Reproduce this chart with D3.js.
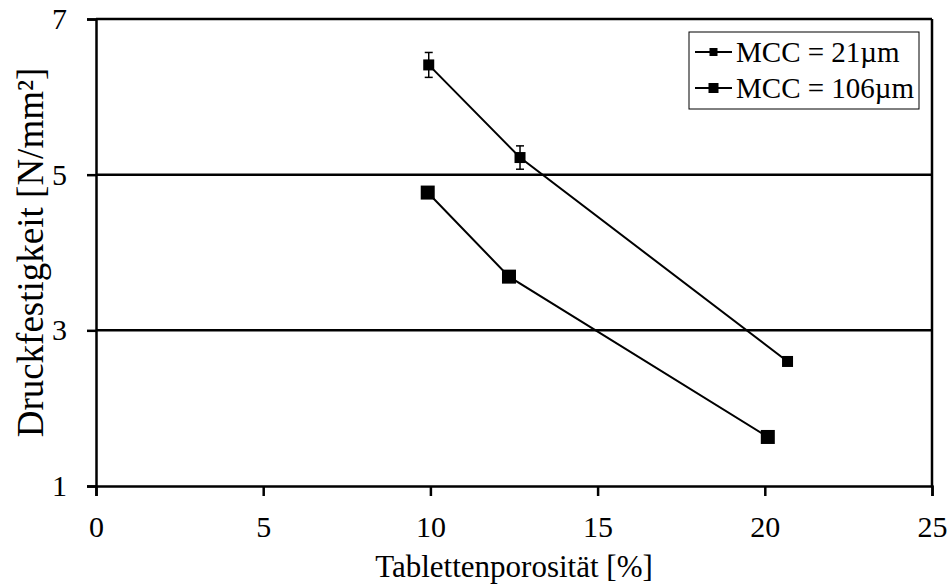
<!DOCTYPE html>
<html><head><meta charset="utf-8">
<script src="https://cdn.jsdelivr.net/npm/d3@7"></script>
<style>body{margin:0;background:#fff}svg{display:block}text{font-family:"Liberation Serif","Times New Roman",serif;fill:#000}</style>
</head><body><svg id="c" width="951" height="585"></svg>
<script>
const seriesNames = ["MCC = 21\u00b5m", "MCC = 106\u00b5m"];
const s21x = [9.95, 12.68, 20.68];
const s21y = [6.41, 5.22, 2.60];
const s21err = [0.16, 0.15, 0.05];
const s106x = [9.92, 12.35, 20.09];
const s106y = [4.77, 3.69, 1.63];
const s106err = [0.03, 0.03, 0.03];
const xTicks = [0, 5, 10, 15, 20, 25];
const yTicks = [1, 3, 5, 7];
const xTitle = "Tablettenporosität [%]";
const yTitle = "Druckfestigkeit [N/mm²]";

const svg = d3.select("#c");
const x = d3.scaleLinear().domain([0, 25]).range([96, 932]);
const y = d3.scaleLinear().domain([1, 7]).range([486, 19]);
const fs = 30;

svg.append("g").selectAll("line").data(yTicks.filter(v => v > 1)).join("line")
  .attr("x1", x(0)).attr("x2", x(25)).attr("y1", d => y(d)).attr("y2", d => y(d))
  .attr("stroke", "#000").attr("stroke-width", 2.5);
svg.append("line").attr("x1", x(25)).attr("x2", x(25)).attr("y1", y(7)).attr("y2", y(1))
  .attr("stroke", "#000").attr("stroke-width", 2.5);

const xAxis = svg.append("g").attr("transform", `translate(0,${y(1)})`)
  .call(d3.axisBottom(x).tickValues(xTicks).tickSize(10).tickPadding(20).tickFormat(d3.format("d")));
const yAxis = svg.append("g").attr("transform", `translate(${x(0)},0)`)
  .call(d3.axisLeft(y).tickValues(yTicks).tickSize(9).tickPadding(20).tickFormat(d3.format("d")));
[xAxis, yAxis].forEach(a => {
  a.select(".domain").attr("stroke", "#000").attr("stroke-width", 2.5);
  a.selectAll(".tick line").attr("stroke", "#000").attr("stroke-width", 2.5);
  a.selectAll("text").attr("font-size", fs).attr("font-family", "Liberation Serif").attr("fill", "#000");
});

svg.append("text").attr("x", (x(0) + x(25)) / 2).attr("y", 577).attr("text-anchor", "middle")
  .attr("font-size", 31).text(xTitle);
svg.append("text").attr("transform", `translate(43,${(y(1) + y(7)) / 2}) rotate(-90)`)
  .attr("text-anchor", "middle").attr("font-size", 37).text(yTitle);

const series = [
  {xs: s21x, ys: s21y, err: s21err, size: 11},
  {xs: s106x, ys: s106y, err: s106err, size: 14}
];
const line = d3.line().x(d => x(d[0])).y(d => y(d[1]));
series.forEach(s => {
  const pts = s.xs.map((v, i) => [v, s.ys[i], s.err[i]]);
  svg.append("path").attr("d", line(pts)).attr("fill", "none").attr("stroke", "#000").attr("stroke-width", 2);
  const g = svg.append("g");
  pts.forEach(p => {
    const cx = x(p[0]);
    g.append("line").attr("x1", cx).attr("x2", cx).attr("y1", y(p[1] + p[2])).attr("y2", y(p[1] - p[2])).attr("stroke", "#000").attr("stroke-width", 1.5);
    [p[1] + p[2], p[1] - p[2]].forEach(v => g.append("line").attr("x1", cx - 4).attr("x2", cx + 4).attr("y1", y(v)).attr("y2", y(v)).attr("stroke", "#000").attr("stroke-width", 1.5));
    g.append("rect").attr("x", cx - s.size / 2).attr("y", y(p[1]) - s.size / 2).attr("width", s.size).attr("height", s.size).attr("fill", "#000");
  });
});

const lg = svg.append("g");
lg.append("rect").attr("x", 689).attr("y", 32).attr("width", 230).attr("height", 77).attr("fill", "#fff").attr("stroke", "#000").attr("stroke-width", 1);
const lsizes = [8, 10];
seriesNames.forEach((n, i) => {
  const cy = 52 + i * 36;
  lg.append("line").attr("x1", 695).attr("x2", 732).attr("y1", cy).attr("y2", cy).attr("stroke", "#000").attr("stroke-width", 2);
  lg.append("rect").attr("x", 713.5 - lsizes[i] / 2).attr("y", cy - lsizes[i] / 2).attr("width", lsizes[i]).attr("height", lsizes[i]).attr("fill", "#000");
  lg.append("text").attr("x", 736).attr("y", cy + 10).attr("font-size", 29).text(n);
});
</script></body></html>
